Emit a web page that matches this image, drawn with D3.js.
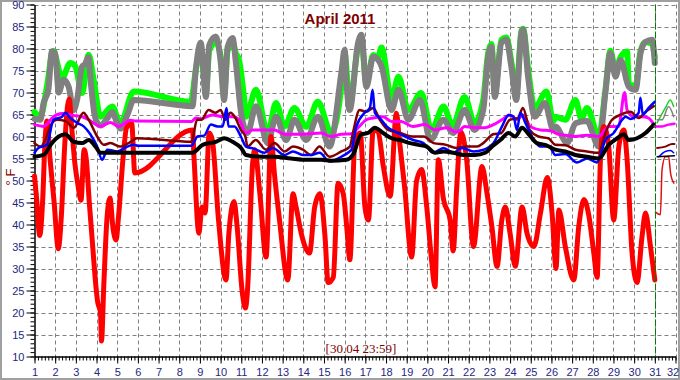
<!DOCTYPE html>
<html>
<head>
<meta charset="utf-8">
<script src="https://cdn.jsdelivr.net/npm/d3@7"></script>
<style>
body{margin:0;background:#fff;}
svg{display:block;}
</style>
</head>
<body>
<script>
var dayTicks = d3.range(1, 33);
var tempTicks = d3.range(10, 91, 5);
var title = 'April 2011';
var stamp = '[30.04 23:59]';
var lastDay = 31;

// [day, °F]
var grayTemps = [[1.0,64],[1.28,63.8],[1.44,67.6],[1.67,70.6],[1.84,79.3],[2.0,79],[2.17,70],[2.41,72.9],[2.65,71.3],[2.89,66],[3.06,68.4],[3.3,75.9],[3.45,76.5],[3.6,78],[3.75,71],[3.9,65],[4.05,63],[4.2,62.5],[4.5,64],[4.76,65.5],[5.0,63],[5.16,61.8],[5.5,65],[5.8,68.3],[8.64,66.9],[8.8,75.2],[9.04,81.3],[9.29,69],[9.45,80.8],[9.77,82.7],[10.01,76.7],[10.17,68.3],[10.34,80.4],[10.58,82.4],[10.74,76.7],[10.99,65.4],[11.3,60.8],[11.71,66.9],[12.28,58.5],[12.68,64.5],[13.17,59.2],[13.57,63.8],[14.14,59.2],[14.71,64.5],[15.27,57.7],[15.84,74.5],[16.0,79.7],[16.08,72.9],[16.24,66],[16.65,81.3],[16.81,83.1],[17.05,71.3],[17.38,78.1],[17.62,77.4],[17.78,76],[18.27,66],[18.6,70.6],[19.08,63.8],[19.64,68.3],[20.15,59.2],[20.78,63.8],[21.24,60.8],[21.8,66],[22.28,61.5],[22.7,66],[22.94,78.1],[23.1,80.4],[23.26,69],[23.58,81.3],[23.82,82],[24.06,75.9],[24.3,68.3],[24.55,83.6],[24.63,84.3],[24.87,73.6],[25.19,64.5],[25.68,67.6],[26.09,61.5],[26.19,62.3],[26.76,58.5],[27.16,63],[27.72,63.5],[28.29,57.7],[28.61,70],[28.85,79],[29.1,73.6],[29.34,77.4],[29.74,71.3],[30.07,70.6],[30.31,79],[30.55,81.5],[30.87,82],[31.0,76.7]];
var greenTemps = [[1.0,65.6],[1.28,64.5],[1.6,71.3],[1.9,79.5],[2.33,73.3],[2.73,76.7],[2.97,76],[3.3,69.9],[3.62,78.6],[3.86,72.9],[4.19,64.5],[4.76,66.8],[5.15,63],[5.8,70.2],[8.56,67.9],[8.8,75],[9.04,80],[9.29,70],[9.45,79.5],[9.77,81.5],[10.01,78],[10.17,69.5],[10.34,79.5],[10.6,81],[10.73,79],[10.89,77.4],[11.13,69],[11.23,64.5],[11.71,70.6],[12.28,60.8],[12.68,67.6],[13.09,62.3],[13.57,66.5],[14.14,62.2],[14.7,67.9],[15.35,60.8],[15.84,71.3],[16.0,79],[16.24,67],[16.65,80.5],[16.81,82],[17.05,72],[17.38,78.5],[17.62,78],[17.78,80.2],[18.27,68.5],[18.6,73.6],[19.08,66],[19.7,69.9],[20.2,61.5],[20.78,66.8],[21.22,62.5],[21.8,69],[22.28,63.1],[22.7,68.3],[22.94,79],[23.1,81],[23.26,70],[23.58,82],[23.82,82.5],[24.06,77],[24.3,70],[24.55,84],[24.63,84.5],[24.87,75.5],[25.19,66.5],[25.76,70.2],[26.09,63.5],[26.19,64.5],[26.67,63.8],[27.16,68.3],[27.45,64],[27.72,66.5],[28.29,60],[28.61,70.5],[28.85,79.5],[29.1,75],[29.34,78],[29.66,79.3],[29.74,72],[30.07,71.5],[30.31,79.5],[30.55,81.5],[30.87,81],[31.0,78]];
var redTemps = [[1.0,51],[1.1,46],[1.25,37.5],[1.4,46],[1.5,58],[1.6,63.5],[1.75,55],[1.95,45],[2.15,34.5],[2.3,42],[2.45,57],[2.6,67],[2.68,68.5],[2.8,62],[2.95,54],[3.1,49],[3.25,45.5],[3.4,57],[3.5,55],[3.65,45],[3.8,36],[3.95,27],[4.05,22.5],[4.19,20],[4.24,13.5],[4.35,26],[4.5,41],[4.65,46],[4.8,39],[4.95,36.5],[5.05,41],[5.3,56],[5.45,62],[5.7,63],[5.85,51.7],[8.64,61.5],[8.72,54.7],[8.95,38],[9.1,44],[9.25,42.6],[9.45,60.8],[9.6,59.2],[9.9,41],[10.26,27.4],[10.4,38],[10.65,45.2],[10.8,39.5],[11.05,24.5],[11.2,21],[11.3,25],[11.55,54],[11.65,57],[11.9,47],[12.2,32.6],[12.44,60],[12.6,51.7],[12.85,41],[13.25,27.4],[13.5,47],[13.65,44],[13.9,38],[14.3,33.5],[14.55,44],[14.8,47],[15.05,37.2],[15.2,26.8],[15.45,28],[15.68,49.4],[15.93,47],[16.1,39.5],[16.25,32],[16.5,59.2],[16.75,60.8],[16.98,44],[17.15,41],[17.38,61.6],[17.62,61],[17.87,53.2],[18.2,46.4],[18.5,65.3],[18.65,59],[18.9,48.5],[19.24,32.6],[19.48,50],[19.72,52.5],[19.97,44],[20.2,32],[20.37,25.8],[20.53,54.7],[20.78,45.7],[21.1,41],[21.25,34],[21.42,48.5],[21.62,61],[21.9,54.7],[22.23,35],[22.64,53.2],[22.88,47.2],[23.12,39.5],[23.37,30.5],[23.6,41],[23.77,44],[24.0,38],[24.25,30.5],[24.58,44],[24.82,38],[25.15,35],[25.47,42.6],[25.8,50.7],[26.04,42],[26.22,30],[26.36,43.3],[26.67,35],[27.08,27.4],[27.32,39.5],[27.57,45.7],[27.81,42],[28.05,33.5],[28.21,28],[28.37,54.7],[28.53,62.3],[28.77,57.7],[29.01,41],[29.26,57.7],[29.5,61.5],[29.66,54.7],[29.9,33.5],[30.14,26.8],[30.38,37.2],[30.55,42.6],[30.79,35],[31.0,27.4]];
var magentaTemps = [[1.0,62.7],[1.44,62.3],[1.92,64.5],[2.33,65.2],[2.89,64.8],[3.3,64.5],[3.62,63.8],[4.19,62.3],[4.67,63.2],[5.08,62.3],[5.65,63.7],[5.9,63.5],[8.6,63.4],[8.8,64.2],[9.04,64],[9.6,64.9],[10.09,64.5],[10.58,64.5],[10.9,63.8],[11.23,60.8],[11.55,61.5],[12.0,61.5],[12.6,61.5],[13.09,60.5],[13.65,60.5],[14.22,60.6],[14.87,60.8],[15.35,60],[15.84,60.5],[16.32,60.6],[16.55,61.5],[17.05,63.8],[17.38,64.2],[17.86,64.5],[18.27,63.4],[18.73,63.4],[19.3,62.3],[19.87,62.7],[20.37,61.5],[20.93,62],[21.4,61],[21.6,61.5],[21.8,62.3],[22.3,62],[22.79,62],[23.2,62.7],[23.6,63.8],[24.0,64.9],[24.33,63.8],[24.63,64.9],[24.98,62.3],[25.47,61.5],[25.95,61.3],[26.35,60.5],[26.67,60.3],[27.16,60],[27.72,60.3],[28.29,60],[28.77,62.3],[29.25,62.3],[29.54,70],[29.66,66],[29.98,64.5],[30.38,64.5],[30.7,64.2],[31.0,62.3]];
var maroonTemps = [[1.0,58.5],[1.3,57.7],[1.52,59.2],[1.84,63],[2.08,63.8],[2.5,63.5],[2.9,62],[3.37,65.4],[3.62,63.8],[4.03,60],[4.35,58.1],[4.67,58.5],[5.15,57.7],[5.65,58.8],[5.95,59.6],[8.6,58.8],[8.86,63.8],[9.07,63.8],[9.42,66],[9.74,65.4],[10.0,66],[10.23,63.8],[10.48,65.4],[10.72,64.2],[10.98,61.5],[11.2,60],[11.3,57.7],[11.7,59.2],[12.2,57],[12.6,58.5],[13.1,56.6],[13.5,57.7],[13.98,57],[14.38,55.8],[14.78,57.7],[15.27,55.4],[15.84,56.6],[16.25,57.7],[16.4,60.8],[16.72,66],[17.05,65.6],[17.38,66.5],[17.7,63.8],[18.1,61.5],[18.68,60.8],[19.25,60],[19.82,60],[20.3,58.5],[20.9,58.1],[21.4,57.4],[21.9,57.7],[22.4,57.7],[22.7,58.5],[23.18,60.5],[23.58,60.8],[23.98,63.8],[24.38,64.2],[24.62,66.5],[24.95,61.5],[25.37,60],[25.85,59.6],[26.19,58.1],[26.67,58],[27.16,57],[27.72,56.6],[28.29,56.3],[28.61,60.8],[28.93,63.8],[29.33,64.9],[29.82,65.6],[30.22,64.2],[30.55,65.6],[30.95,66.9]];
var blueTemps = [[1.0,56.3],[1.19,57.4],[1.6,58.1],[1.92,63.8],[2.33,64.5],[2.49,65.4],[2.73,64.2],[3.06,63.1],[3.38,62.3],[3.7,60.5],[4.03,57.7],[4.27,54.7],[4.52,57],[5.0,56.6],[5.49,57.7],[5.8,58.1],[6.0,57.9],[8.6,57.9],[8.88,60],[9.2,60.2],[9.53,62.7],[9.85,62.3],[10.1,62.3],[10.29,66.5],[10.38,62.3],[10.67,62.3],[10.98,60],[11.23,57.7],[11.64,57.2],[12.12,56.3],[12.52,57.4],[13.09,55.8],[13.5,56.6],[13.98,55.8],[14.38,55.8],[14.79,56.3],[15.27,54.3],[15.84,55.4],[16.24,56.6],[16.33,57],[16.57,62.3],[16.97,65.4],[17.22,66.5],[17.35,70.6],[17.46,65.4],[17.7,64.2],[18.03,62.3],[18.44,61.1],[18.92,60],[19.32,59.2],[19.81,58.5],[20.29,56.3],[20.78,57.4],[21.26,56.3],[21.66,57.4],[22.23,56.6],[22.72,57],[23.2,58.5],[23.61,62.3],[23.93,64.9],[24.17,64.5],[24.33,61.5],[24.5,65.4],[24.74,63.1],[25.15,59.2],[25.47,57.7],[25.88,57.8],[26.19,55.8],[26.67,56],[27.24,54.1],[27.73,55],[28.2,54.1],[28.61,59.2],[29.01,60.8],[29.42,63.8],[29.58,64.5],[29.82,64],[30.22,65.4],[30.3,68.8],[30.42,65],[30.7,66.5],[31.0,67.9]];
var blackTemps = [[1.0,55.4],[1.44,55.8],[1.84,58.5],[2.17,60],[2.49,60.5],[2.89,58.8],[3.3,58.5],[3.62,59.2],[3.95,57.7],[4.19,56.3],[8.64,56.3],[9.13,58.1],[9.77,58.8],[10.17,59.6],[10.58,58.8],[10.99,57.4],[11.23,55.8],[12.0,55.4],[12.6,55.4],[13.4,55],[14.2,54.7],[14.87,54.7],[15.35,54.5],[16.08,54.7],[16.4,55.8],[16.8,60.5],[17.13,60.8],[17.46,62],[17.86,60.8],[18.27,59.6],[18.68,59.2],[19.16,58.5],[19.56,58.1],[19.97,57.7],[20.37,56.3],[20.78,56.6],[21.26,56.3],[21.75,55.8],[22.3,55.8],[22.8,56.3],[23.12,57.7],[23.53,59.2],[23.93,60.8],[24.25,60],[24.58,62],[24.9,60.5],[25.3,58.5],[25.7,58.1],[26.19,57],[26.67,56.6],[27.16,55.8],[27.72,55.4],[28.29,55],[28.77,58.1],[29.18,59.6],[29.5,60.5],[29.74,59.2],[30.14,59.6],[30.55,60.8],[30.95,62.7]];

// next month, after the 31st
var grayNext = [[31.11,63.8],[31.35,63.8],[31.67,66.8],[31.91,64.5]];
var greenNext = [[31.11,63.1],[31.51,66.5],[31.75,68.3],[31.91,66.8]];
var redNext = [[31.03,42.8],[31.27,42.2],[31.35,52.5],[31.51,55.4],[31.67,55.4],[31.76,51.7],[31.92,49.4]];
var magentaNext = [[31.0,62.3],[31.35,62.3],[31.67,62.7],[31.95,62.9]];
var maroonNext = [[31.11,57.4],[31.51,57.7],[31.83,58.3],[31.95,58.3]];
var blueNext = [[31.19,55.4],[31.51,56.6],[31.75,56.8],[31.91,56.3]];
var blackNext = [[31.11,55.4],[31.95,55.6]];

var svg = d3.select('body')
            .append('svg')
            .attr('width', 680)
            .attr('height', 380);

var x = d3.scaleLinear().domain([1, 32]).range([34.5, 675.5]);
var y = d3.scaleLinear().domain([10, 90]).range([356.5, 4.5]);

svg.append('rect')
    .attr('x', 1).attr('y', 1)
    .attr('width', 678).attr('height', 378)
    .attr('fill', '#fff')
    .attr('stroke', '#a0a0a0')
    .attr('stroke-width', 2);

// grid
svg.selectAll('line.vgrid')
    .data(dayTicks.slice(1))
    .enter().append('line')
        .attr('class', 'vgrid')
        .attr('x1', function(d){return Math.round(x(d)) + 0.5;})
        .attr('x2', function(d){return Math.round(x(d)) + 0.5;})
        .attr('y1', y(90))
        .attr('y2', y(10))
        .attr('stroke', '#808080')
        .attr('stroke-dasharray', '4,3');

svg.selectAll('line.hgrid')
    .data(tempTicks.slice(1))
    .enter().append('line')
        .attr('class', 'hgrid')
        .attr('x1', x(1))
        .attr('x2', x(32))
        .attr('y1', function(d){return Math.round(y(d)) + 0.5;})
        .attr('y2', function(d){return Math.round(y(d)) + 0.5;})
        .attr('stroke', '#808080')
        .attr('stroke-dasharray', '4,3');

// axes
var yMinor = d3.axisLeft(y).tickValues(d3.range(10, 91, 1)).tickSize(4).tickSizeOuter(0).tickFormat('');
var yMajor = d3.axisLeft(y).tickValues(tempTicks).tickSize(8).tickSizeOuter(0).tickPadding(2);
var xMinor = d3.axisBottom(x).tickValues(d3.range(0, 187).map(function(i){return 1 + i / 6;})).tickSize(4).tickSizeOuter(0).tickFormat('');
var xMajor = d3.axisBottom(x).tickValues(dayTicks).tickSize(7).tickSizeOuter(0).tickPadding(5);

svg.append('g').attr('transform', 'translate(' + x(1) + ',0)').call(yMinor);
svg.append('g').attr('class', 'yaxis').attr('transform', 'translate(' + x(1) + ',0)').call(yMajor);
svg.append('g').attr('transform', 'translate(0,' + y(10) + ')').call(xMinor);
svg.append('g').attr('class', 'xaxis').attr('transform', 'translate(0,' + y(10) + ')').call(xMajor);

svg.selectAll('.yaxis text, .xaxis text')
    .attr('fill', '#262680')
    .attr('font-family', 'Arial, "Liberation Sans", sans-serif')
    .attr('font-size', 11);
// keep "32" inside the frame
svg.selectAll('.xaxis .tick text')
    .filter(function(d){return d === 32;})
    .attr('dx', -3);

// series
var line = d3.line()
    .curve(d3.curveMonotoneX)
    .x(function(d){return x(d[0]);})
    .y(function(d){return y(d[1]);});

var series = [
    {data: greenTemps, color: '#00ff00', width: 6},
    {data: grayTemps, color: '#808080', width: 6},
    {data: redTemps, color: '#ff0000', width: 5},
    {data: magentaTemps, color: '#ff00ff', width: 3},
    {data: maroonTemps, color: '#800000', width: 2.5},
    {data: blueTemps, color: '#0000ff', width: 2.5},
    {data: blackTemps, color: '#000000', width: 4},
    {data: greenNext, color: '#22cc22', width: 1.5},
    {data: grayNext, color: '#808080', width: 1.5},
    {data: redNext, color: '#dd1111', width: 1.5},
    {data: magentaNext, color: '#ff00ff', width: 2.5},
    {data: maroonNext, color: '#800000', width: 2},
    {data: blueNext, color: '#0000ff', width: 1.5},
    {data: blackNext, color: '#000000', width: 1.5}
];

svg.selectAll('path.series')
    .data(series)
    .enter().append('path')
        .attr('class', 'series')
        .attr('d', function(d){return line(d.data);})
        .attr('fill', 'none')
        .attr('stroke', function(d){return d.color;})
        .attr('stroke-width', function(d){return d.width;})
        .attr('stroke-linejoin', 'round')
        .attr('stroke-linecap', 'round');

svg.append('line')
    .attr('x1', Math.round(x(lastDay)) + 0.5)
    .attr('x2', Math.round(x(lastDay)) + 0.5)
    .attr('y1', y(90))
    .attr('y2', y(10))
    .attr('stroke', '#008000')
    .attr('stroke-dasharray', '7,2');

// texts
svg.append('text')
    .attr('x', 340).attr('y', 24)
    .attr('text-anchor', 'middle')
    .attr('font-family', 'Arial, "Liberation Sans", sans-serif')
    .attr('font-weight', 'bold')
    .attr('font-size', 15)
    .attr('fill', '#800000')
    .text(title);

svg.append('text')
    .attr('transform', 'translate(15,177) rotate(-90)')
    .attr('text-anchor', 'middle')
    .attr('font-family', 'Arial, "Liberation Sans", sans-serif')
    .attr('font-size', 13)
    .attr('fill', '#800000')
    .text('° F');

svg.append('text')
    .attr('x', 361).attr('y', 353)
    .attr('text-anchor', 'middle')
    .attr('font-family', '"Liberation Serif", "Times New Roman", serif')
    .attr('font-size', 13)
    .attr('fill', '#800000')
    .text(stamp);
</script>
</body>
</html>
